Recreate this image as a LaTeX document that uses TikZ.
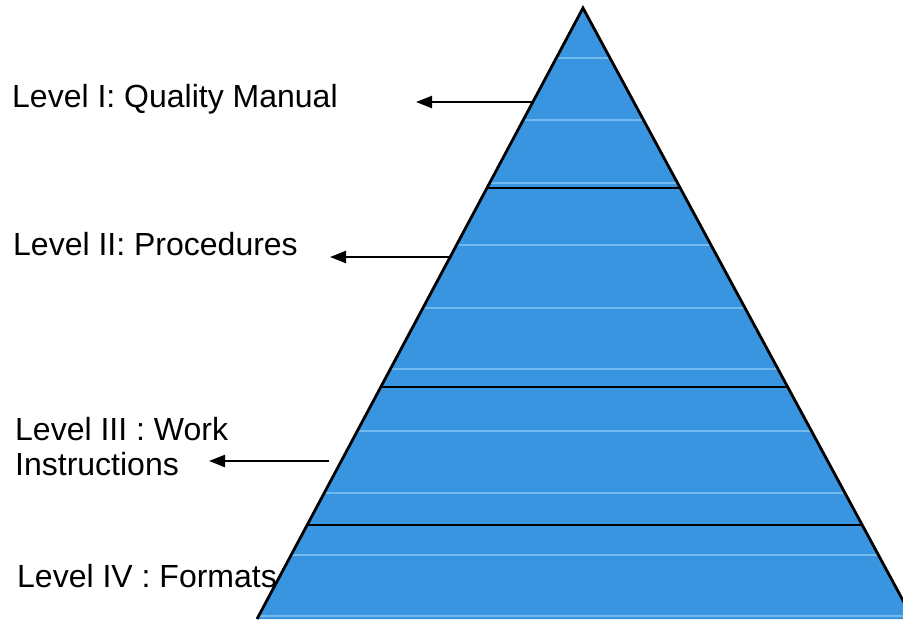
\documentclass[tikz,border=0pt]{standalone}
\usepackage{fontspec}
\setmainfont{Liberation Sans}
\usetikzlibrary{arrows.meta}
\definecolor{pyrblue}{RGB}{58,149,224}
\definecolor{stripe}{RGB}{130,196,240}
\begin{document}
\begin{tikzpicture}[x=1pt,y=-1pt,
  lbl/.style={inner sep=0pt,font=\fontsize{32}{35}\selectfont,align=left},
  arr/.style={line width=2.4pt,-{Triangle[length=16pt,width=12pt]}},
  levelline/.style={line width=2.4pt},
  outline/.style={line width=2.8pt,line join=miter}]
\useasboundingbox (0,0) rectangle (903,619);
\fill[white] (0,0) rectangle (903,619);
\begin{scope}
  \clip (0,0) rectangle (903,619);
  \coordinate (apex) at (583,8);
  \coordinate (bl) at (257,619);
  \coordinate (br) at (913,619);
  \fill[pyrblue] (apex) -- (bl) -- (br) -- cycle;
  \begin{scope}
    \clip (apex) -- (bl) -- (br) -- cycle;
    \foreach \yy in {58,120,183,245,308,369,431,493,555,616}
      \draw[stripe,line width=1.6pt,opacity=0.8] (200,\yy) -- (920,\yy);
    \draw[levelline] (200,188) -- (920,188);
    \draw[levelline] (200,387) -- (920,387);
    \draw[levelline] (200,525) -- (920,525);
  \end{scope}
  \draw[outline] (bl) -- (apex) -- (br);
\end{scope}
\node[lbl,anchor=base west] (l1) at (12,107) {Level I: Quality Manual};
\node[lbl,anchor=base west] (l2) at (13,255) {Level II: Procedures};
\node[lbl,anchor=north west] (l3) at (15,417) {Level III : Work\\Instructions};
\node[lbl,anchor=base west] (l4) at (17,587) {Level IV : Formats};
\coordinate (s1) at (533,102); \coordinate (e1) at (416,102);
\coordinate (s2) at (452,257); \coordinate (e2) at (330,257);
\coordinate (s3) at (329,461); \coordinate (e3) at (209,461);
\draw[arr] (s1) -- (e1);
\draw[arr] (s2) -- (e2);
\draw[arr] (s3) -- (e3);
\end{tikzpicture}
\end{document}
